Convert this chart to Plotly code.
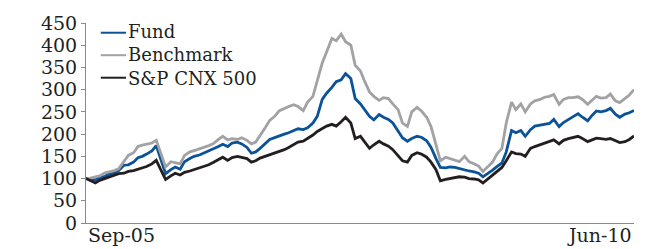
import pandas as pd
import plotly.graph_objects as go

# Semi-monthly observation dates (1st and 15th), Sep-2005 .. Jun-2010, plus month-end close
dates = list(pd.date_range("2005-09-01", "2010-06-15", freq="SMS").strftime("%Y-%m-%d")) + ["2010-06-30"]

fund = [100, 99, 97, 102, 105, 110, 113, 118, 130, 131, 137, 147, 150, 155, 162, 174,
        140, 111, 120, 126, 121, 138, 145, 150, 153, 157, 162, 166, 172, 177, 172, 180,
        182, 178, 170, 157, 160, 168, 178, 188, 192, 196, 200, 203, 208, 212, 210, 214,
        225, 240, 278, 292, 305, 318, 322, 336, 325, 280, 268, 255, 240, 232, 244, 238,
        233, 225, 208, 192, 184, 190, 195, 193, 185, 170, 145, 125, 124, 126, 125, 122,
        119, 117, 115, 112, 104, 110, 119, 127, 135, 160, 208, 203, 208, 195, 210, 218,
        220, 222, 224, 233, 217, 226, 233, 238, 246, 238, 230, 242, 252, 250, 253, 258,
        245, 238, 245, 248, 253]

benchmark = [100, 101, 104, 106, 113, 115, 118, 122, 140, 152, 158, 172, 175, 177, 180, 186,
             155, 126, 138, 135, 133, 152, 160, 163, 166, 170, 174, 178, 188, 195, 187, 190,
             188, 192, 186, 178, 182, 196, 215, 231, 240, 252, 258, 262, 266, 262, 253, 272,
             285, 320, 360, 385, 415, 410, 425, 408, 400, 355, 342, 318, 295, 285, 276, 282,
             280, 268, 255, 225, 217, 250, 260, 252, 238, 217, 175, 140, 148, 145, 140, 138,
             150, 138, 133, 128, 116, 125, 137, 155, 168, 225, 272, 255, 268, 250, 268, 275,
             278, 283, 285, 289, 267, 278, 282, 282, 284, 278, 267, 276, 285, 281, 282, 290,
             275, 271, 280, 288, 300]

cnx500 = [100, 95, 90, 96, 100, 104, 108, 111, 112, 116, 118, 121, 124, 127, 133, 141,
          118, 98, 106, 112, 108, 114, 117, 120, 123, 127, 131, 136, 143, 148, 141, 147,
          150, 148, 145, 137, 140, 146, 150, 155, 158, 162, 165, 170, 177, 182, 184, 190,
          198, 206, 212, 218, 222, 218, 228, 238, 225, 190, 195, 183, 168, 176, 184, 178,
          173, 165, 152, 140, 137, 152, 158, 155, 148, 137, 120, 95, 98, 100, 102, 104,
          103, 100, 99, 97, 90, 98, 108, 115, 125, 140, 160, 156, 155, 150, 168, 172,
          176, 180, 183, 187, 178, 186, 190, 192, 195, 190, 183, 187, 191, 190, 188, 190,
          185, 181, 183, 188, 196]

series_names = ["Fund", "Benchmark", "S&P CNX 500"]
series_colors = ["#0b5299", "#a2a2a5", "#231f20"]
x_tick_labels = ["Sep-05", "Jun-10"]

FONT = "DejaVu Serif"
TEXT = "#231f20"
AXIS = "#8a8a8a"

fig = go.Figure()
for name, vals, col in zip(series_names, [fund, benchmark, cnx500], series_colors):
    fig.add_trace(go.Scatter(x=dates, y=vals, mode="lines", name=name,
                             line=dict(color=col, width=2.8), showlegend=False))

fig.update_layout(
    width=647, height=249,
    margin=dict(l=86, r=13, t=15, b=26),
    paper_bgcolor="white", plot_bgcolor="white",
    showlegend=False,
    xaxis=dict(type="date", range=[dates[0], dates[-1]], showticklabels=False,
               showgrid=False, zeroline=False, showline=True, linecolor=AXIS,
               linewidth=1, ticks=""),
    yaxis=dict(range=[0, 450], dtick=50, tick0=0, showgrid=False, zeroline=False,
               showline=True, linecolor=AXIS, linewidth=1, ticks="outside",
               ticklen=4, tickcolor=AXIS,
               tickfont=dict(family=FONT, size=19, color=TEXT)),
)

# Legend: key lines + one multi-line label block, top-left inside the plot
legend_rows_y = [0.9514, 0.839, 0.7264]
for col, yy in zip(series_colors, legend_rows_y):
    fig.add_shape(type="line", xref="paper", yref="paper", x0=0.027, x1=0.073,
                  y0=yy, y1=yy, line=dict(color=col, width=2))
fig.add_annotation(x=0.075, y=legend_rows_y[1], xref="paper", yref="paper",
                   text="<br>".join(series_names), align="left",
                   showarrow=False, xanchor="left", yanchor="middle", borderpad=0,
                   font=dict(family=FONT, size=18, color=TEXT))

fig.add_annotation(x=dates[0], y=0, xref="x", yref="paper", text=x_tick_labels[0],
                   showarrow=False, xanchor="left", yanchor="top", yshift=1,
                   font=dict(family=FONT, size=19, color=TEXT))
fig.add_annotation(x=dates[-1], y=0, xref="x", yref="paper", text=x_tick_labels[1],
                   showarrow=False, xanchor="right", yanchor="top", yshift=1,
                   font=dict(family=FONT, size=19, color=TEXT))

fig.write_html("out.html", config={"displayModeBar": False},
               post_script="document.body.style.margin='0';")
